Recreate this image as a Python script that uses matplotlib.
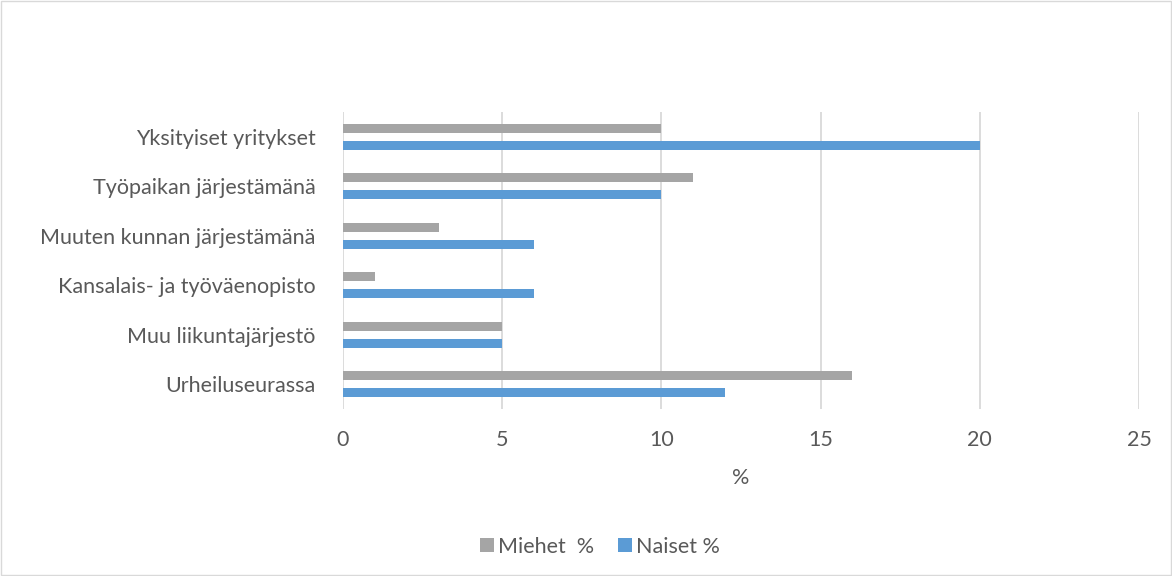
import numpy as np
import matplotlib.pyplot as plt
from matplotlib.patches import Rectangle

plt.rcParams['font.family'] = ['Lato', 'DejaVu Sans']

categories = ['Urheiluseurassa', 'Muu liikuntajärjestö', 'Kansalais- ja työväenopisto',
              'Muuten kunnan järjestämänä', 'Työpaikan järjestämänä', 'Yksityiset yritykset']
miehet = [16, 5, 1, 3, 11, 10]
naiset = [12, 5, 6, 6, 10, 20]

grey = '#a5a5a5'
blue = '#5b9bd5'
text_col = '#595959'
fs = 15.5

fig = plt.figure(figsize=(11.72, 5.76), dpi=100)
ax = fig.add_axes([0.2927, 0.2899, 0.6791, 0.5157])

y = np.arange(len(categories))
bh = 0.18
ax.barh(y + 0.17, miehet, height=bh, color=grey, label='Miehet  %', zorder=3)
ax.barh(y - 0.17, naiset, height=bh, color=blue, label='Naiset %', zorder=3)

ax.set_xlim(0, 25)
ax.set_ylim(-0.5, len(categories) - 0.5)
ax.set_xticks(range(0, 26, 5))
ax.set_yticks(y)
ax.set_yticklabels(categories)
ax.grid(axis='x', color='#d9d9d9', linewidth=1.3, zorder=0)
for s in ax.spines.values():
    s.set_visible(False)
ax.tick_params(length=0, labelsize=fs, colors=text_col)
ax.tick_params(axis='x', pad=15)
ax.tick_params(axis='y', pad=20)
ax.set_xlabel('%', fontsize=fs, color=text_col, labelpad=13)

fig.legend(loc='lower center', bbox_to_anchor=(0.512, 0.0), ncol=2, frameon=False,
           fontsize=fs, labelcolor=text_col, handlelength=0.65, handleheight=0.65,
           columnspacing=1.1, handletextpad=0.2)

fig.patches.append(Rectangle((0.001, 0.001), 0.998, 0.998, transform=fig.transFigure,
                             fill=False, edgecolor='#d9d9d9', linewidth=1))

fig.savefig('out.png', dpi=100)
